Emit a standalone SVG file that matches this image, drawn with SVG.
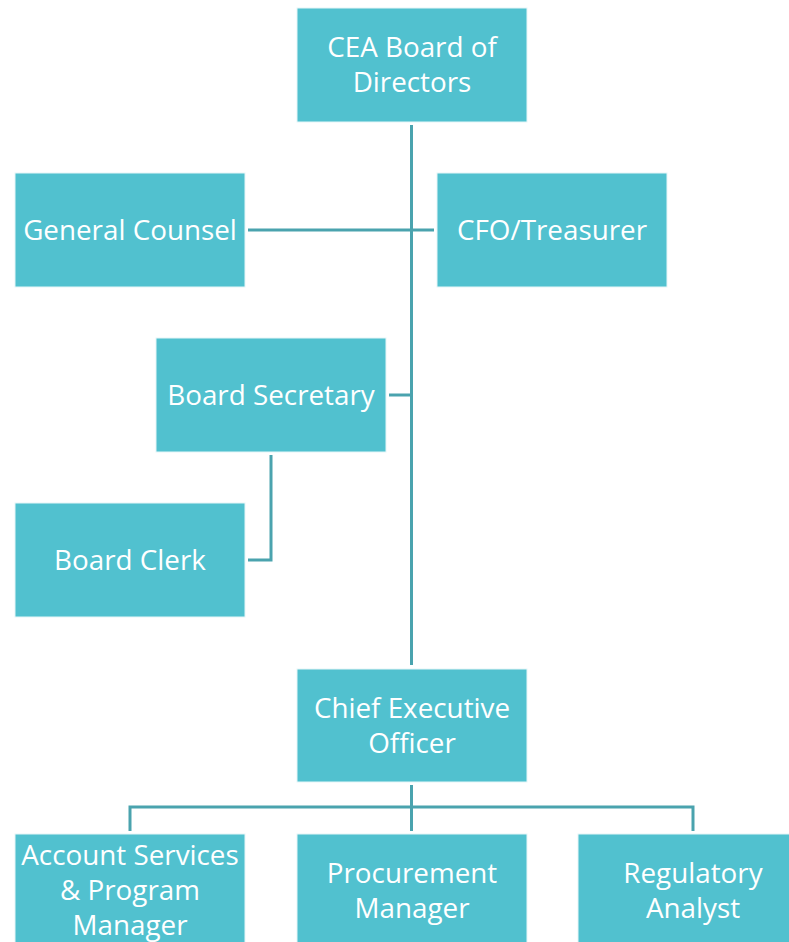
<svg xmlns="http://www.w3.org/2000/svg" width="789" height="942" viewBox="0 0 789 942">
<style>
.box{fill:#51C1CF;stroke:#E6F6F8;stroke-width:1}
.t{fill:#FFFFFF;font-family:"Open Sans","Liberation Sans",sans-serif;font-size:27.8px;text-anchor:middle;font-variant-ligatures:none}
.c{fill:none;stroke:#4AA3AE;stroke-width:3}
</style>
<rect width="789" height="942" fill="#FFFFFF"/>
<g id="connectors">
<path class="c" d="M411.5 125 V665"/>
<path class="c" d="M248 230 H411.5 M411.5 230 H434"/>
<path class="c" d="M389 395 H411.5"/>
<path class="c" d="M271 455 V560 H248"/>
<path class="c" d="M411.5 785 V831 M130 831 V807 H693 V831"/>
</g>
<g id="ceaBoard">
<rect class="box" x="297" y="8" width="230" height="114"/>
<text class="t" x="412" y="57">CEA Board of</text>
<text class="t" x="412" y="92">Directors</text>
</g>
<g id="generalCounsel">
<rect class="box" x="15" y="173" width="230" height="114"/>
<text class="t" x="130" y="240">General Counsel</text>
</g>
<g id="cfoTreasurer">
<rect class="box" x="437" y="173" width="230" height="114"/>
<text class="t" x="552" y="240">CFO/Treasurer</text>
</g>
<g id="boardSecretary">
<rect class="box" x="156" y="338" width="230" height="114"/>
<text class="t" x="271" y="405">Board Secretary</text>
</g>
<g id="boardClerk">
<rect class="box" x="15" y="503" width="230" height="114"/>
<text class="t" x="130" y="570">Board Clerk</text>
</g>
<g id="ceo">
<rect class="box" x="297" y="669" width="230" height="113"/>
<text class="t" x="412" y="718">Chief Executive</text>
<text class="t" x="412" y="753">Officer</text>
</g>
<g id="accountServices">
<rect class="box" x="15" y="834" width="230" height="114"/>
<text class="t" x="130" y="865">Account Services</text>
<text class="t" x="130" y="900">&amp; Program</text>
<text class="t" x="130" y="935">Manager</text>
</g>
<g id="procurementManager">
<rect class="box" x="297" y="834" width="230" height="114"/>
<text class="t" x="412" y="883">Procurement</text>
<text class="t" x="412" y="918">Manager</text>
</g>
<g id="regulatoryAnalyst">
<rect class="box" x="578" y="834" width="230" height="114"/>
<text class="t" x="693" y="883">Regulatory</text>
<text class="t" x="693" y="918">Analyst</text>
</g>
</svg>
